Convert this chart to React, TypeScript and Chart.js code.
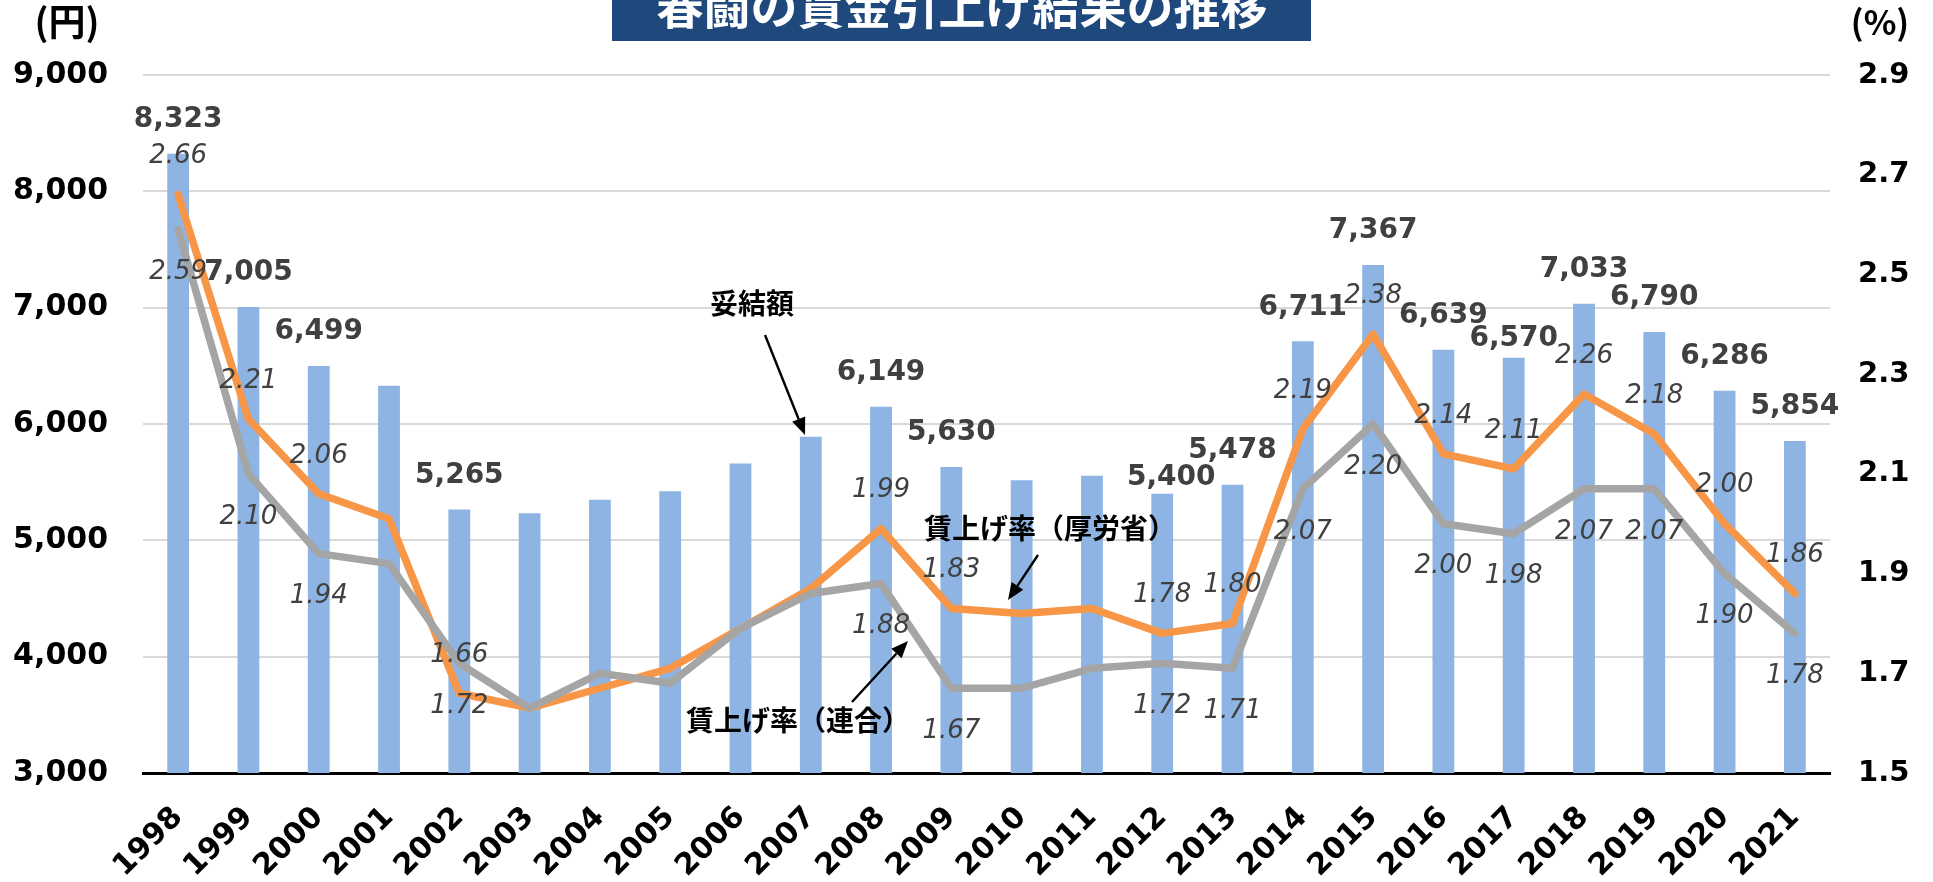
import { useEffect, useRef } from 'react';
import { Chart, registerables } from 'chart.js';

Chart.register(...registerables);

const years = ['1998', '1999', '2000', '2001', '2002', '2003', '2004', '2005', '2006', '2007', '2008', '2009', '2010', '2011', '2012', '2013', '2014', '2015', '2016', '2017', '2018', '2019', '2020', '2021'];

// 妥結額 (円)
const settlementYen = [8323, 7005, 6499, 6328, 5265, 5233, 5348, 5422, 5661, 5890, 6149, 5630, 5516, 5555, 5400, 5478, 6711, 7367, 6639, 6570, 7033, 6790, 6286, 5854];

// 賃上げ率（厚労省） (%)
const rateMhlw = [2.66, 2.21, 2.06, 2.01, 1.66, 1.63, 1.67, 1.71, 1.79, 1.87, 1.99, 1.83, 1.82, 1.83, 1.78, 1.80, 2.19, 2.38, 2.14, 2.11, 2.26, 2.18, 2.00, 1.86];

// 賃上げ率（連合） (%)
const rateRengo = [2.59, 2.10, 1.94, 1.92, 1.72, 1.63, 1.70, 1.68, 1.79, 1.86, 1.88, 1.67, 1.67, 1.71, 1.72, 1.71, 2.07, 2.20, 2.00, 1.98, 2.07, 2.07, 1.90, 1.78];

// which years carry data labels
const labelShown = [true, true, true, false, true, false, false, false, false, false, true, true, false, false, true, true, true, true, true, true, true, true, true, true];

// axis ticks
const yenTicks = { min: 3000, max: 9000, step: 1000 };
const rateTicks = { min: 1.5, max: 2.9, step: 0.2 };

// layout-only: manual nudges for some bar labels [dx, dy from default]
const barLabelNudge: Record<number, [number, number]> = { 14: [9, 18], 19: [0, 15] };

const TITLE = '春闘の賃金引上げ結果の推移';
const NUM_FONT = '"DejaVu Sans"';
const JP_FONT = '"Noto Sans CJK JP"';

function arrow(ctx: CanvasRenderingContext2D, x1: number, y1: number, x2: number, y2: number) {
  const ang = Math.atan2(y2 - y1, x2 - x1);
  const hl = 17, hw = 7;
  ctx.save();
  ctx.strokeStyle = '#000';
  ctx.fillStyle = '#000';
  ctx.lineWidth = 2.4;
  ctx.beginPath();
  ctx.moveTo(x1, y1);
  ctx.lineTo(x2 - hl * Math.cos(ang), y2 - hl * Math.sin(ang));
  ctx.stroke();
  ctx.beginPath();
  ctx.moveTo(x2, y2);
  ctx.lineTo(x2 - hl * Math.cos(ang) + hw * Math.sin(ang), y2 - hl * Math.sin(ang) - hw * Math.cos(ang));
  ctx.lineTo(x2 - hl * Math.cos(ang) - hw * Math.sin(ang), y2 - hl * Math.sin(ang) + hw * Math.cos(ang));
  ctx.closePath();
  ctx.fill();
  ctx.restore();
}

export default function App() {
  const ref = useRef<HTMLCanvasElement>(null);

  useEffect(() => {
    if (!ref.current) return;

    const labelsPlugin = {
      id: 'customLabels',
      afterDatasetsDraw(chart: any) {
        const ctx: CanvasRenderingContext2D = chart.ctx;
        ctx.save();
        ctx.textAlign = 'center';
        ctx.textBaseline = 'middle';
        // bar labels
        const barMeta = chart.getDatasetMeta(0);
        ctx.font = `bold 28px ${NUM_FONT}`;
        ctx.fillStyle = '#404040';
        barMeta.data.forEach((el: any, i: number) => {
          if (!labelShown[i]) return;
          const n = barLabelNudge[i] || [0, 0];
          ctx.fillText(settlementYen[i].toLocaleString('en-US'), el.x + n[0], el.y - 34 + n[1]);
        });
        // line labels
        ctx.font = `italic 26px ${NUM_FONT}`;
        const mMeta = chart.getDatasetMeta(1);
        mMeta.data.forEach((el: any, i: number) => {
          if (!labelShown[i]) return;
          ctx.fillText(rateMhlw[i].toFixed(2), el.x, el.y - 38);
        });
        const rMeta = chart.getDatasetMeta(2);
        rMeta.data.forEach((el: any, i: number) => {
          if (!labelShown[i]) return;
          ctx.fillText(rateRengo[i].toFixed(2), el.x, el.y + 43);
        });
        ctx.restore();
      },
      afterDraw(chart: any) {
        const ctx: CanvasRenderingContext2D = chart.ctx;
        ctx.save();
        // title box
        ctx.fillStyle = '#1F497D';
        ctx.fillRect(612, 0, 699, 41);
        ctx.fillStyle = '#FFFFFF';
        ctx.font = `bold 47px ${JP_FONT}`;
        ctx.textAlign = 'center';
        ctx.textBaseline = 'alphabetic';
        ctx.fillText(TITLE, 962, 24);
        // unit labels
        ctx.fillStyle = '#000';
        ctx.textBaseline = 'middle';
        ctx.font = `bold 37px ${JP_FONT}`;
        ctx.fillText('(円)', 67, 22);
        ctx.font = `bold 34px ${JP_FONT}`;
        ctx.fillText('(%)', 1880, 22);
        // annotations
        ctx.font = `bold 28px ${JP_FONT}`;
        ctx.fillText('妥結額', 752, 303);
        ctx.fillText('賃上げ率（厚労省）', 1050, 528);
        ctx.fillText('賃上げ率（連合）', 798, 720);
        ctx.restore();
        arrow(ctx, 765, 335, 805, 435);
        arrow(ctx, 1038, 555, 1008, 600);
        arrow(ctx, 852, 702, 908, 641);
      },
    };

    const chart = new Chart(ref.current, {
      type: 'bar',
      data: {
        labels: years,
        datasets: [
          {
            type: 'bar',
            label: '妥結額',
            data: settlementYen,
            backgroundColor: '#8DB4E2',
            barPercentage: 0.31,
            categoryPercentage: 1,
            yAxisID: 'y',
            order: 2,
          },
          {
            type: 'line',
            label: '賃上げ率（厚労省）',
            data: rateMhlw,
            borderColor: '#F79646',
            borderWidth: 7.5,
            pointRadius: 0,
            borderCapStyle: 'round',
            borderJoinStyle: 'round',
            tension: 0,
            yAxisID: 'y1',
            order: 1,
          },
          {
            type: 'line',
            label: '賃上げ率（連合）',
            data: rateRengo,
            borderColor: '#A5A5A5',
            borderWidth: 7.5,
            pointRadius: 0,
            borderCapStyle: 'round',
            borderJoinStyle: 'round',
            tension: 0,
            yAxisID: 'y1',
            order: 0,
          },
        ],
      },
      options: {
        responsive: false,
        animation: false,
        devicePixelRatio: 1,
        layout: { padding: { top: 75, left: 0, right: 0, bottom: 0 } },
        plugins: {
          legend: { display: false },
          tooltip: { enabled: false },
          title: { display: false },
        },
        scales: {
          x: {
            offset: true,
            grid: { display: false, drawTicks: false },
            border: { display: true, color: '#000', width: 3 },
            ticks: {
              autoSkip: false,
              minRotation: 45,
              maxRotation: 45,
              color: '#000',
              padding: 27,
              font: { family: NUM_FONT, weight: 'bold', size: 30 },
            },
            afterFit: (s: any) => { s.height = 109; },
          },
          y: {
            position: 'left',
            min: yenTicks.min,
            max: yenTicks.max,
            ticks: {
              stepSize: yenTicks.step,
              color: '#000',
              padding: 35,
              font: { family: NUM_FONT, weight: 'bold', size: 30 },
              callback: (v: any) => Number(v).toLocaleString('en-US'),
            },
            grid: {
              drawTicks: false,
              lineWidth: 2,
              color: (c: any) => (c.tick && c.tick.value === yenTicks.min ? 'rgba(0,0,0,0)' : '#D9D9D9'),
            },
            border: { display: false },
            afterFit: (s: any) => { s.width = 143; },
          },
          y1: {
            position: 'right',
            min: rateTicks.min,
            max: rateTicks.max,
            ticks: {
              stepSize: rateTicks.step,
              color: '#000',
              padding: 28,
              font: { family: NUM_FONT, weight: 'bold', size: 29 },
              callback: (v: any) => Number(v).toFixed(1),
            },
            grid: { display: false, drawTicks: false },
            border: { display: false },
            afterFit: (s: any) => { s.width = 103; },
          },
        },
      },
      plugins: [labelsPlugin],
    } as any);

    return () => chart.destroy();
  }, []);

  return (
    <canvas
      ref={ref}
      width={1933}
      height={882}
      style={{ position: 'absolute', left: 0, top: 0, display: 'block' }}
    />
  );
}
